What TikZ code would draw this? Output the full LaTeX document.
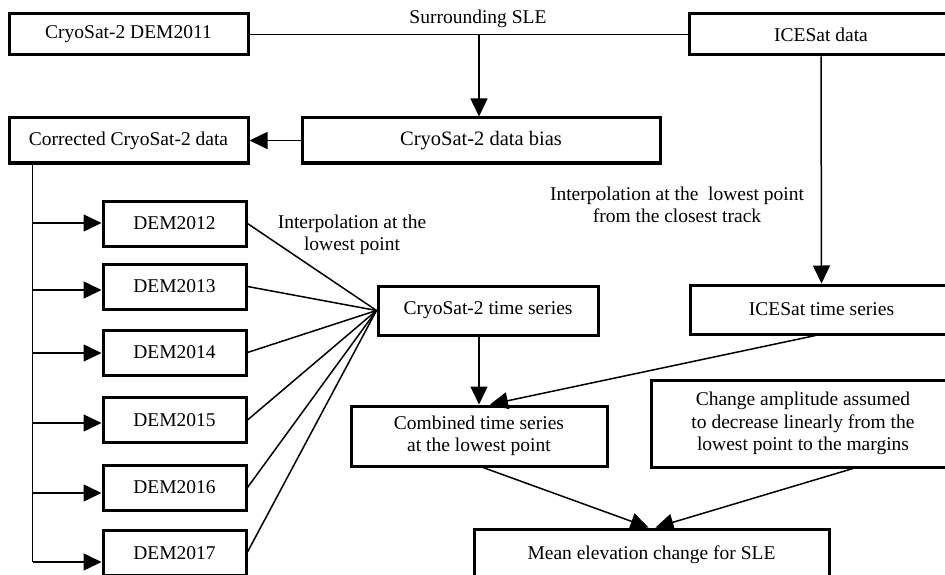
\documentclass[tikz,border=0pt]{standalone}
\usepackage{fontspec}
\setmainfont{Liberation Serif}
\usetikzlibrary{arrows.meta,calc}
\begin{document}
\begin{tikzpicture}[x=1pt,y=-1pt,
  box/.style={draw,line width=3pt,inner sep=0pt,align=center,font=\fontsize{19.5}{22.5}\selectfont},
  lbl/.style={align=center,inner sep=0pt,font=\fontsize{19.5}{22.5}\selectfont},
  con/.style={line width=1.5pt},
  arr/.style={line width=1.5pt,-{Triangle[length=18pt,width=17pt]}}]
\clip (0,0) rectangle (945,575);
\fill[white] (0,0) rectangle (945,575);
% boxes
\node[box,minimum width=239pt,minimum height=41pt] (dem11) at (128.5,34.5) {CryoSat-2 DEM2011};
\node[box,minimum width=264pt,minimum height=41pt] (ice) at (821,34.5) {ICESat data};
\node[box,minimum width=358pt,minimum height=45pt,font=\fontsize{20.5}{23}\selectfont] (bias) at (481,140.5) {CryoSat-2 data bias};
\node[box,minimum width=239pt,minimum height=45pt] (corr) at (128.5,140.5) {Corrected CryoSat-2 data};
\node[box,minimum width=143pt,minimum height=45pt] (d12) at (174.5,223.5) {DEM2012};
\node[box,minimum width=143pt,minimum height=45pt] (d13) at (174.5,286.5) {DEM2013};
\node[box,minimum width=143pt,minimum height=45pt] (d14) at (174.5,352.5) {DEM2014};
\node[box,minimum width=143pt,minimum height=45pt] (d15) at (174.5,420) {DEM2015};
\node[box,minimum width=143pt,minimum height=45pt] (d16) at (174.5,487.5) {DEM2016};
\node[box,minimum width=143pt,minimum height=45pt] (d17) at (174.5,553) {DEM2017};
\node[box,minimum width=220pt,minimum height=49pt] (cts) at (488,310.5) {CryoSat-2 time series};
\node[box,minimum width=263pt,minimum height=49pt] (its) at (821.5,309.5) {ICESat time series};
\node[box,minimum width=256pt,minimum height=60pt] (comb) at (479,436) {Combined time series\\at the lowest point};
\node[box,minimum width=304pt,minimum height=87pt] (chg) at (803,423.5) {Change amplitude assumed\\to decrease linearly from the\\lowest point to the margins};
\node[box,minimum width=355pt,minimum height=52pt] (mean) at (651.5,555) {Mean elevation change for SLE};
% labels
\node[lbl] (l1) at (478,19) {Surrounding SLE};
\node[lbl] (l2) at (352,235) {Interpolation at the\\lowest point};
\node[lbl] (l3) at (677,205) {Interpolation at the\ \ lowest point\\from the closest track};
% connectors
\draw[con] (dem11.east) -- (ice.west);
\coordinate (split) at (bias.north |- dem11.east);
\draw[arr] ($(split)+(-2,0)$) -- ($(bias.north)+(-2,0)$);
\draw[arr] (bias.west) -- (corr.east);
\coordinate (trtop) at ($(corr.south west)+(25,0)$);
\coordinate (trbot) at (trtop |- 0,562);
\draw[con] (trtop) -- (trbot);
\foreach \d/\y in {d12/223,d13/290,d14/353,d15/423,d16/493,d17/562}{
  \draw[arr] (trtop |- 0,\y) -- (\d.west |- 0,\y);
}
\draw[con] (d12.east) -- (cts.west);
\draw[con] (d13.east) -- (cts.west);
\draw[con] (d14.east) -- (cts.west);
\draw[con] (d15.east) -- (cts.west);
\draw[con] (d16.east) -- (cts.west);
\draw[con] ($(d17.east)+(0,-1)$) -- (cts.west);
\draw[arr] (ice.south) -- (its.north);
\draw[arr] (comb.north |- cts.south) -- (comb.north);
\draw[arr] ($(its.south)+(-6,0)$) -- ($(comb.north)+(11,0)$);
\draw[arr] ($(comb.south)+(4,0)$) -- ($(mean.north)+(-3,0)$);
\draw[arr] ($(chg.south)+(50,0)$) -- ($(mean.north)+(4,0)$);
\end{tikzpicture}
\end{document}
